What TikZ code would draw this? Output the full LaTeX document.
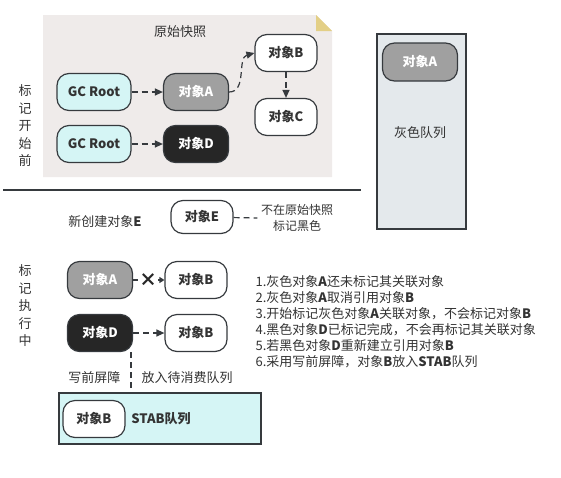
\documentclass[tikz,border=0pt]{standalone}
\usepackage{fontspec}
\setmainfont{Noto Sans CJK SC}
\usetikzlibrary{arrows.meta}

\definecolor{snapbg}{HTML}{EFEBEA}
\definecolor{foldc}{HTML}{E3CF86}
\definecolor{rootc}{HTML}{D5F5F5}
\definecolor{objgray}{HTML}{A0A0A0}
\definecolor{objblack}{HTML}{262626}
\definecolor{queuebg}{HTML}{E4E9EC}
\definecolor{linec}{HTML}{363A3E}
\definecolor{textc}{HTML}{333333}

\tikzset{
  obj/.style={draw=linec, line width=1.2pt, rounded corners=12pt, fill=white,
    minimum width=62pt, minimum height=37pt, text=textc,
    font=\bfseries\fontsize{13}{13}\selectfont},
  grayobj/.style={obj, fill=objgray, text=white, minimum width=65pt},
  blackobj/.style={obj, fill=objblack, text=white, minimum width=65pt},
  rootobj/.style={obj, fill=rootc, minimum width=74pt},
  refarrow/.style={draw=linec, line width=1.2pt, dash pattern=on 6pt off 4pt,
    -{Triangle[length=8pt,width=7pt]}},
  lbl/.style={text=textc, font=\fontsize{13}{17.5}\selectfont, align=center},
}

\begin{document}
\begin{tikzpicture}[x=1pt, y=-1pt]

    \useasboundingbox (0,0) rectangle (561,477);

    % Sfondo dello snapshot con angolo piegato
    \fill[snapbg] (43,15) -- (316,15) -- (332,31) -- (332,177) -- (43,177) -- cycle;
    \fill[foldc] (316,15) -- (332,31) -- (316,31) -- cycle;
    \node[lbl] (snaptitle) at (180,32) {原始快照};

    % Oggetti prima della marcatura
    \node[rootobj] (root1) at (94,92) {GC Root};
    \node[grayobj] (objA) at (196,92) {对象A};
    \node[obj] (objB) at (286,53) {对象B};
    \node[obj] (objC) at (286,117) {对象C};
    \node[rootobj] (root2) at (94,144) {GC Root};
    \node[blackobj] (objD) at (196,144) {对象D};

    % Riferimenti
    \draw[refarrow] (root1) -- (objA);
    \draw[refarrow] (root2) -- (objD);
    \draw[refarrow] (objA.east) to[out=0, in=195] (objB.west);
    \draw[refarrow] (objB) -- (objC);

    % Etichette laterali
    \node[lbl] (before) at (25,126) {标\\记\\开\\始\\前};
    \node[lbl] (during) at (25,306) {标\\记\\执\\行\\中};

    % Linea di separazione
    \draw[linec, line width=1.2pt] (3,190) -- (361,190);

    % Coda grigia
    \draw[linec, line width=1.2pt, fill=queuebg] (377,34) rectangle (466,229);
    \node[grayobj, minimum width=75pt, minimum height=38pt] (qA) at (420,62) {对象A};
    \node[lbl] (qlabel) at (420,133) {灰色队列};

    % Nuovo oggetto E
    \node[lbl] (newE) at (105,222) {新创建对象\textbf{E}};
    \node[obj, minimum height=33pt] (objE) at (202,217) {对象E};
    \node[lbl, font=\fontsize{12}{16}\selectfont] (noteE) at (297,218) {不在原始快照\\标记黑色};
    \draw[linec, line width=1.2pt, dash pattern=on 6pt off 4pt] (objE) -- (noteE.west);

    % Oggetti durante la marcatura
    \node[grayobj] (objA2) at (100,280) {对象A};
    \node[obj] (objB2) at (196,280) {对象B};
    \node[blackobj] (objD2) at (100,333) {对象D};
    \node[obj] (objB3) at (196,333) {对象B};

    % Riferimento cancellato
    \draw[draw=linec, line width=1.2pt, -{Triangle[length=5pt,width=6pt]}] (objA2) -- (objB2);
    \node[fill=white, inner sep=1pt, text=objblack, font=\bfseries\fontsize{18}{18}\selectfont] (cut) at (148,280) {×};
    \draw[refarrow] (objD2) -- (objB3);

    % Barriera di scrittura verso STAB
    \draw[linec, fill=rootc, line width=1.2pt] (59,393) rectangle (261,444);
    \coordinate (stabtop) at (131,393);
    \draw[linec, line width=1.2pt, dash pattern=on 6pt off 4pt] (objD2.south -| stabtop) -- (stabtop);
    \node[lbl, anchor=east] (wb) at (124,378) {写前屏障};
    \node[lbl, anchor=west] (enq) at (138,378) {放入待消费队列};
    \node[obj] (objB4) at (94,419) {对象B};
    \node[lbl, font=\bfseries\fontsize{13}{13}\selectfont] (stab) at (161,419) {STAB队列};

    % Passi
    \node[lbl, anchor=north west, align=left, font=\fontsize{13}{16}\selectfont] (steps) at (252,272)
    {1.灰色对象\textbf{A}还未标记其关联对象\\
    2.灰色对象\textbf{A}取消引用对象\textbf{B}\\
    3.开始标记灰色对象\textbf{A}关联对象，不会标记对象\textbf{B}\\
    4.黑色对象\textbf{D}已标记完成，不会再标记其关联对象\\
    5.若黑色对象\textbf{D}重新建立引用对象\textbf{B}\\
    6.采用写前屏障，对象\textbf{B}放入\textbf{STAB}队列};

\end{tikzpicture}
\end{document}
